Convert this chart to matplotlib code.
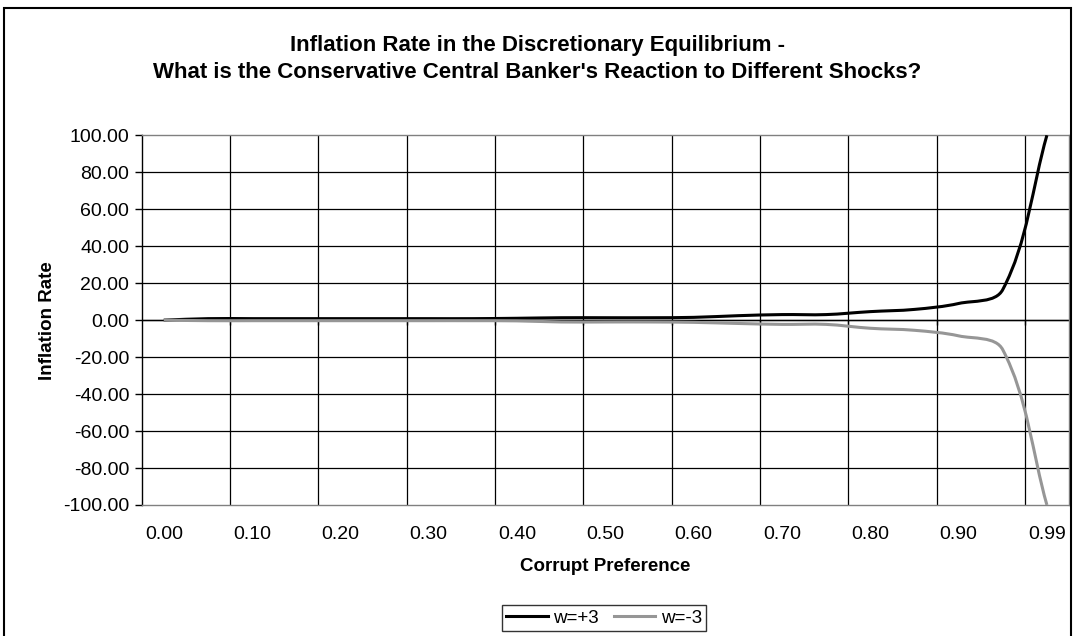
import numpy as np
import matplotlib
matplotlib.use("Agg")
import matplotlib.pyplot as plt
from matplotlib.path import Path
from matplotlib.patches import PathPatch, Rectangle
from matplotlib.lines import Line2D

plt.rcParams['font.family'] = ['Liberation Sans', 'DejaVu Sans']

# categorías del eje x (Corrupt Preference)
categories = ["0.00", "0.05", "0.10", "0.15", "0.20", "0.25", "0.30", "0.35",
              "0.40", "0.45", "0.50", "0.55", "0.60", "0.65", "0.70", "0.75",
              "0.80", "0.85", "0.90", "0.95", "0.99"]
# inflación para cada shock
w_plus3 = [0.0, 0.8, 0.8, 0.8, 0.8, 0.8, 0.8, 0.8, 1.0, 1.3, 1.3, 1.3, 1.5,
           2.4, 3.0, 3.0, 4.6, 5.8, 9.0, 16.5, 100.0]
w_minus3 = [0.0, -0.3, -0.3, -0.3, -0.3, -0.3, -0.3, -0.3, -0.4, -1.0, -1.0,
            -1.0, -1.2, -1.8, -2.3, -2.3, -4.4, -5.5, -8.5, -16.0, -100.0]
y_ticks = [-100, -80, -60, -40, -20, 0, 20, 40, 60, 80, 100]

fig = plt.figure(figsize=(10.75, 6.36), dpi=100)
ax = fig.add_axes([0.1318, 0.2060, 0.8626, 0.5813])
ax.set_xlim(-0.5, len(categories) - 0.5)
ax.set_ylim(-100, 100)

# rejilla: horizontales cada 20, verticales cada 2 categorías
ax.set_yticks(y_ticks)
ax.set_yticklabels([f"{v:.2f}" for v in y_ticks])
for v in y_ticks[1:-1]:
    ax.axhline(v, color="black", lw=0.9, zorder=1)
edges = np.arange(1.5, len(categories) - 1, 2)
for e in edges:
    ax.axvline(e, color="black", lw=0.9, zorder=1)
ax.axhline(0, color="black", lw=1.0, zorder=1)
ax.vlines(edges, 0, -2.4, color="black", lw=1.0, zorder=1)

ax.set_xticks(np.arange(0, len(categories), 2))
ax.set_xticklabels(categories[::2])
ax.tick_params(axis="x", length=0, pad=15, labelsize=14)
ax.tick_params(axis="y", length=5, width=1, labelsize=14, pad=4)

for s in ["top", "right", "bottom"]:
    ax.spines[s].set_color("#808080")
    ax.spines[s].set_linewidth(1)
ax.spines["left"].set_color("black")
ax.spines["left"].set_linewidth(1)

ax.set_xlabel("Corrupt Preference", fontsize=13.5, fontweight="bold", labelpad=11)
ax.set_ylabel("Inflation Rate", fontsize=13.5, fontweight="bold", labelpad=5)


def smooth_path(xs, ys):
    # suavizado tipo Excel: tangentes proporcionales a la longitud del tramo
    pts = ax.transData.transform(np.column_stack([xs, ys]))
    n = len(pts)
    tang = []
    for i in range(n):
        a = pts[max(i - 1, 0)]
        b = pts[min(i + 1, n - 1)]
        t = b - a
        tang.append(t / np.hypot(*t))
    verts = [pts[0]]
    codes = [Path.MOVETO]
    for i in range(n - 1):
        d = np.hypot(*(pts[i + 1] - pts[i])) / 3
        verts += [pts[i] + tang[i] * d, pts[i + 1] - tang[i + 1] * d, pts[i + 1]]
        codes += [Path.CURVE4] * 3
    verts = ax.transData.inverted().transform(np.array(verts))
    return Path(verts, codes)


x = np.arange(len(categories))
ax.add_patch(PathPatch(smooth_path(x, w_plus3), fill=False, ec="black",
                       lw=2.2, zorder=3, capstyle="butt"))
ax.add_patch(PathPatch(smooth_path(x, w_minus3), fill=False, ec="#969696",
                       lw=2.2, zorder=3, capstyle="butt"))

handles = [Line2D([], [], color="black", lw=2.2),
           Line2D([], [], color="#969696", lw=2.2)]
leg = fig.legend(handles, ["w=+3", "w=-3"], loc="center",
                 bbox_to_anchor=(0.5619, 0.0283), ncol=2, fontsize=13.5,
                 frameon=True, fancybox=False, handlelength=2.2,
                 handletextpad=0.3, columnspacing=0.8, borderpad=0.25)
leg.get_frame().set_edgecolor("black")
leg.get_frame().set_linewidth(1)

fig.text(0.5, 1 - 45 / 636, "Inflation Rate in the Discretionary Equilibrium -",
         ha="center", va="center", fontsize=16, fontweight="bold")
fig.text(0.5, 1 - 73 / 636,
         "What is the Conservative Central Banker's Reaction to Different Shocks?",
         ha="center", va="center", fontsize=16, fontweight="bold")

fig.patches.append(Rectangle((4 / 1075, -0.05), 1067 / 1075, 1.05 - 8 / 636,
                             transform=fig.transFigure, fill=False,
                             ec="black", lw=1.5))

fig.savefig("out.png", dpi=100)
